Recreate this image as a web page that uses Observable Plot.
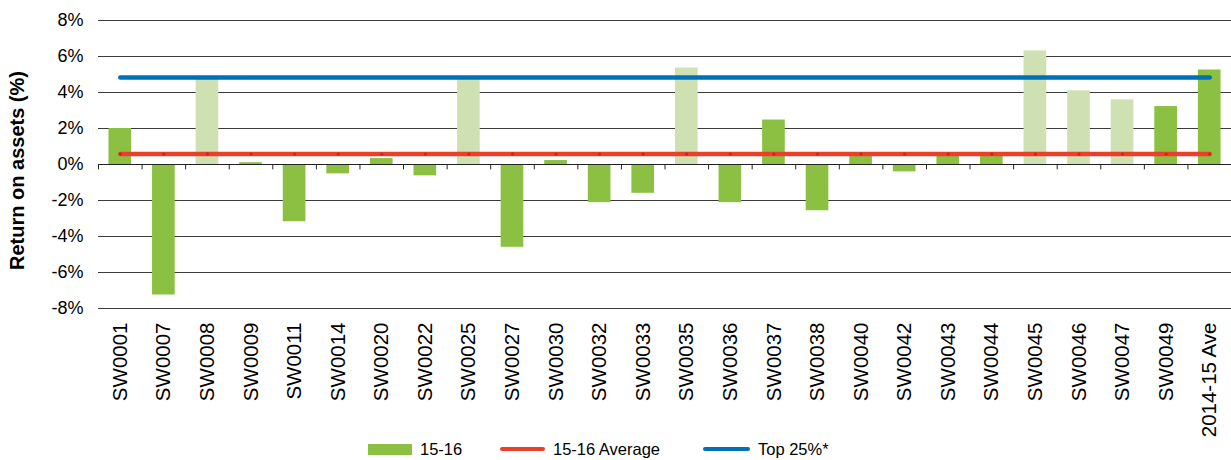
<!DOCTYPE html>
<html>
<head>
<meta charset="utf-8">
<script src="https://cdn.jsdelivr.net/npm/d3@7"></script>
<script src="https://cdn.jsdelivr.net/npm/@observablehq/plot@0.6"></script>
<style>
  html, body { margin: 0; padding: 0; background: #fff; }
  body { font-family: "Liberation Sans", Arial, sans-serif; color: #000; }
  #legend { position: relative; width: 1231px; height: 22px; font-size: 16.5px; }
  #legend .item { position: absolute; top: 0; height: 22px; display: flex; align-items: center; }
  #legend .sw { display: inline-block; margin-right: 8px; }
</style>
</head>
<body>
<div id="chart"></div>
<div id="legend"></div>
<script>
// ---- data ----
const categories = ["SW0001","SW0007","SW0008","SW0009","SW0011","SW0014","SW0020","SW0022","SW0025","SW0027","SW0030","SW0032","SW0033","SW0035","SW0036","SW0037","SW0038","SW0040","SW0042","SW0043","SW0044","SW0045","SW0046","SW0047","SW0049","2014-15 Ave"];
const values = [2.0, -7.25, 4.85, 0.1, -3.18, -0.52, 0.33, -0.63, 4.8, -4.6, 0.22, -2.12, -1.6, 5.36, -2.12, 2.47, -2.57, 0.6, -0.41, 0.6, 0.6, 6.31, 4.09, 3.59, 3.22, 5.25];
const shades = ["dark","dark","light","dark","dark","dark","dark","dark","light","dark","dark","dark","dark","light","dark","dark","dark","dark","dark","dark","dark","light","light","light","dark","dark"];
const average1516 = 0.58;
const top25 = 4.84;
const yTicks = [-8, -6, -4, -2, 0, 2, 4, 6, 8];
const seriesNames = ["15-16", "15-16 Average", "Top 25%*"];
const yTitle = "Return on assets (%)";

// ---- styles ----
const green = "#8cc043", lightGreen = "#cfe1b2", red = "#ec3f2a", blue = "#0070b8", grid = "#3a3a3a";
const W = 1231, H = 438, mL = 98, mR = 0, mT = 20, mB = 130;
const step = (W - mL - mR) / categories.length;

const rows = categories.map((c, i) => ({cat: c, value: values[i], shade: shades[i]}));

const chart = Plot.plot({
  width: W, height: H,
  marginLeft: mL, marginRight: mR, marginTop: mT, marginBottom: mB,
  style: {fontFamily: '"Liberation Sans", Arial, sans-serif', color: "#000", background: "#fff", overflow: "visible"},
  x: {type: "band", domain: categories, paddingInner: 0.48, paddingOuter: 0.24, round: false},
  y: {domain: [-8, 8]},
  color: {domain: ["dark", "light"], range: [green, lightGreen]},
  marks: [
    Plot.ruleY(yTicks, {stroke: grid, strokeWidth: 1}),
    Plot.barY(rows, {x: "cat", y: "value", fill: "shade"}),
    Plot.ruleY([0], {stroke: "#222", strokeWidth: 1}),
    Plot.ruleX(categories, {x: d => d, y1: 0, y2: -0.3, dx: -step / 2, stroke: "#222", strokeWidth: 1}),
    Plot.line(categories, {x: d => d, y: () => average1516, stroke: red, strokeWidth: 4.5, strokeLinecap: "round"}),
    Plot.dot(categories, {x: d => d, y: () => average1516, r: 1.6, fill: "#c8281a"}),
    Plot.line(categories, {x: d => d, y: () => top25, stroke: blue, strokeWidth: 4.5, strokeLinecap: "round"}),
    Plot.axisY({ticks: yTicks, tickSize: 0, tickPadding: 15, fontSize: 18, tickFormat: d => d + "%", label: null}),
    Plot.axisX({anchor: "bottom", tickSize: 0, tickPadding: 14, tickRotate: -90, fontSize: 20.5, label: null}),
    Plot.text([yTitle], {frameAnchor: "left", dx: -81, dy: 6, rotate: -90, textAnchor: "middle", fontSize: 20, fontWeight: "bold", fill: "#000"})
  ]
});
document.getElementById("chart").appendChild(chart);

// ---- legend ----
const legend = document.getElementById("legend");
const items = [
  {label: seriesNames[0], left: 368, sw: `<span class="sw" style="width:44px;height:11px;background:${green}"></span>`},
  {label: seriesNames[1], left: 500, sw: `<span class="sw" style="width:45px;height:4px;border-radius:2px;background:${red}"></span>`},
  {label: seriesNames[2], left: 703, sw: `<span class="sw" style="width:47px;height:4px;border-radius:2px;background:${blue}"></span>`}
];
for (const it of items) {
  const d = document.createElement("div");
  d.className = "item";
  d.style.left = it.left + "px";
  d.innerHTML = it.sw + `<span>${it.label}</span>`;
  legend.appendChild(d);
}
</script>
</body>
</html>
